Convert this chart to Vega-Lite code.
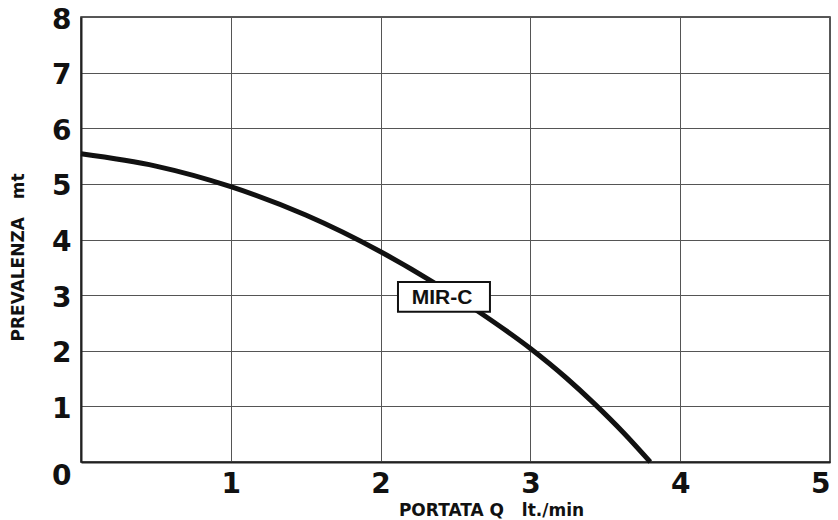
{
  "$schema": "https://vega.github.io/schema/vega-lite/v6.json",
  "width": 749,
  "height": 445,
  "autosize": {"type": "none"},
  "padding": {"left": 81, "top": 17, "right": 8, "bottom": 58},
  "background": "white",
  "config": {
    "view": {"stroke": "#222", "strokeWidth": 1.5},
    "font": "DejaVu Sans"
  },
  "datasets": {
    "curve": [
      {"q": 0, "h": 5.54},
      {"q": 0.5, "h": 5.32},
      {"q": 1, "h": 4.95},
      {"q": 1.5, "h": 4.44},
      {"q": 2, "h": 3.78},
      {"q": 2.65, "h": 2.71},
      {"q": 3, "h": 2.04},
      {"q": 3.24, "h": 1.51},
      {"q": 3.43, "h": 1.04},
      {"q": 3.62, "h": 0.53},
      {"q": 3.8, "h": 0}
    ],
    "label": [
      {"x1": 2.116, "x2": 2.73, "y1": 2.70, "y2": 3.237, "xt": 2.41, "yt": 2.95, "name": "MIR-C"}
    ]
  },
  "layer": [
    {
      "data": {"name": "curve"},
      "mark": {"type": "line", "color": "#111", "strokeWidth": 5, "interpolate": "monotone", "strokeCap": "butt"},
      "encoding": {
        "x": {
          "field": "q", "type": "quantitative",
          "scale": {"domain": [0, 5], "nice": false},
          "axis": {
            "values": [0, 1, 2, 3, 4, 5],
            "format": "d",
            "labelExpr": "datum.value == 0 ? '' : datum.label",
            "title": "PORTATA Q\u00a0\u00a0\u00a0lt./min",
            "titleFont": "DejaVu Sans", "titleFontSize": 17, "titleFontWeight": "bold",
            "titleColor": "#111", "titleX": 410, "titleY": 53, "titleBaseline": "alphabetic",
            "labelFont": "DejaVu Sans", "labelFontSize": 28, "labelFontWeight": "bold",
            "labelColor": "#111", "labelPadding": 8, "labelBaseline": "top",
            "ticks": false, "domainColor": "#222", "domainWidth": 2,
            "grid": true, "gridColor": "#555", "gridWidth": 1
          }
        },
        "y": {
          "field": "h", "type": "quantitative",
          "scale": {"domain": [0, 8], "nice": false},
          "axis": {
            "values": [0, 1, 2, 3, 4, 5, 6, 7, 8],
            "format": "d",
            "title": "PREVALENZA\u00a0\u00a0\u00a0mt",
            "titleFont": "DejaVu Sans", "titleFontSize": 17, "titleFontWeight": "bold",
            "titleColor": "#111", "titleX": -63, "titleY": 240, "titleAngle": -90, "titleBaseline": "middle",
            "labelFont": "DejaVu Sans", "labelFontSize": 28, "labelFontWeight": "bold",
            "labelColor": "#111", "labelPadding": 10,
            "labelBaseline": {"condition": {"test": "datum.value == 0", "value": "top"}, "value": "middle"},
            "labelOffset": {"condition": {"test": "datum.value == 0", "value": 0}, "value": 3},
            "ticks": false, "domainColor": "#222", "domainWidth": 2,
            "grid": true, "gridColor": "#555", "gridWidth": 1
          }
        }
      }
    },
    {
      "data": {"name": "label"},
      "mark": {"type": "rect", "fill": "white", "stroke": "#111", "strokeWidth": 2},
      "encoding": {
        "x": {"field": "x1", "type": "quantitative"},
        "x2": {"field": "x2"},
        "y": {"field": "y1", "type": "quantitative"},
        "y2": {"field": "y2"}
      }
    },
    {
      "data": {"name": "label"},
      "mark": {"type": "text", "font": "Liberation Sans", "fontSize": 21, "fontWeight": "bold", "color": "#111", "baseline": "middle", "align": "center"},
      "encoding": {
        "x": {"field": "xt", "type": "quantitative"},
        "y": {"field": "yt", "type": "quantitative"},
        "text": {"field": "name"}
      }
    }
  ]
}
